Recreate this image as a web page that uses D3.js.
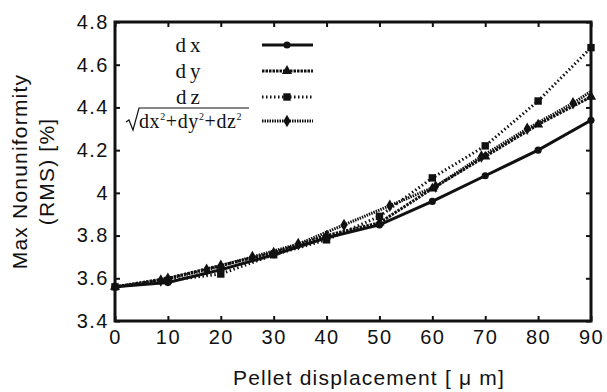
<!DOCTYPE html>
<html>
<head>
<meta charset="utf-8">
<script src="https://cdn.jsdelivr.net/npm/d3@7"></script>
<style>
  body { margin: 0; background: #fff; }
  .tick text { font-family: "Liberation Sans", Arial, sans-serif; font-size: 20px; fill: #111; letter-spacing: 1.5px; }
  .axis-label { font-family: "Liberation Sans", Arial, sans-serif; font-size: 21px; fill: #111; letter-spacing: 1.2px; }
  .legend-text { font-family: "Liberation Serif", "DejaVu Serif", serif; font-size: 21px; fill: #111; letter-spacing: 4px; }
</style>
</head>
<body>
<svg id="chart" width="607" height="392"></svg>
<script>
// x values (displacement, um)
const xs = [0, 10, 20, 30, 40, 50, 60, 70, 80, 90];
const dxVals = [3.56, 3.58, 3.64, 3.71, 3.79, 3.85, 3.96, 4.08, 4.20, 4.34];
const dyVals = [3.56, 3.60, 3.66, 3.72, 3.80, 3.86, 4.02, 4.17, 4.32, 4.45];
const dzVals = [3.56, 3.59, 3.62, 3.71, 3.78, 3.89, 4.07, 4.22, 4.43, 4.68];
// combined displacement sampled at d/sqrt(3)
const xsR = [0, 8.66, 17.32, 25.98, 34.64, 43.30, 51.96, 60.62, 69.28, 77.94, 86.60, 95.26];
const drVals = [3.56, 3.59, 3.64, 3.70, 3.76, 3.85, 3.94, 4.03, 4.17, 4.30, 4.42, 4.56];

const xTicks = [0, 10, 20, 30, 40, 50, 60, 70, 80, 90];
const yTicks = [3.4, 3.6, 3.8, 4.0, 4.2, 4.4, 4.6, 4.8];

const margin = {top: 22, right: 16, bottom: 71, left: 115},
    width = 607 - margin.left - margin.right,
    height = 392 - margin.top - margin.bottom;

const svg = d3.select("#chart")
  .append("g")
  .attr("transform", `translate(${margin.left},${margin.top})`);

const x = d3.scaleLinear().domain([0, 90]).range([0, width]);
const y = d3.scaleLinear().domain([3.4, 4.8]).range([height, 0]);

svg.append("clipPath").attr("id", "clip")
  .append("rect").attr("width", width).attr("height", height);

// axes, ticks pointing inward
const fmt = d => d3.format("")(+d.toFixed(1));
svg.append("g")
  .attr("transform", `translate(0,${height})`)
  .call(d3.axisBottom(x).tickValues(xTicks).tickSizeInner(-5).tickSizeOuter(0).tickPadding(9))
  .call(g => g.select(".domain").remove());
svg.append("g")
  .call(d3.axisLeft(y).tickValues(yTicks).tickFormat(fmt).tickSizeInner(-5).tickSizeOuter(0).tickPadding(6))
  .call(g => g.select(".domain").remove());
svg.append("g")
  .call(d3.axisTop(x).tickValues(xTicks).tickSizeInner(-5).tickSizeOuter(0).tickFormat(""))
  .call(g => g.select(".domain").remove());
svg.append("g")
  .attr("transform", `translate(${width},0)`)
  .call(d3.axisRight(y).tickValues(yTicks).tickSizeInner(-5).tickSizeOuter(0).tickFormat(""))
  .call(g => g.select(".domain").remove());
svg.selectAll(".tick line").attr("stroke", "#111").attr("stroke-width", 2);

const series = [
  {name: "dx", xv: xs, yv: dxVals, dash: null, marker: "circle"},
  {name: "dy", xv: xs, yv: dyVals, dash: "2.5,1", marker: "triangle"},
  {name: "dz", xv: xs, yv: dzVals, dash: "1.5,2.5", marker: "square"},
  {name: "dr", xv: xsR, yv: drVals, dash: "1.5,1", marker: "diamond"}
];

const line = d3.line().x(d => x(d[0])).y(d => y(d[1]));
const symbolFor = {
  circle: d3.symbol().type(d3.symbolCircle).size(40),
  triangle: d3.symbol().type(d3.symbolTriangle).size(45),
  square: d3.symbol().type(d3.symbolSquare).size(55),
  diamond: d3.symbol().type(d3.symbolDiamond).size(45)
};

const plot = svg.append("g").attr("clip-path", "url(#clip)");
series.forEach(s => {
  const pts = s.xv.map((v, i) => [v, s.yv[i]]);
  plot.append("path")
    .datum(pts)
    .attr("fill", "none")
    .attr("stroke", "#111")
    .attr("stroke-width", 3)
    .attr("stroke-dasharray", s.dash)
    .attr("d", line);
  svg.append("g").selectAll("path")
    .data(pts.filter(p => p[0] <= 90))
    .enter().append("path")
    .attr("transform", d => `translate(${x(d[0])},${y(d[1])})`)
    .attr("d", symbolFor[s.marker])
    .attr("fill", "#111");
});

// frame
svg.append("rect")
  .attr("width", width).attr("height", height)
  .attr("fill", "none").attr("stroke", "#111").attr("stroke-width", 3);

// legend
const leg = svg.append("g");
const rowsY = [23, 49, 75, 99];
const labelX = 75;
series.forEach((s, i) => {
  const ly = rowsY[i];
  if (s.name !== "dr") {
    leg.append("text").attr("class", "legend-text")
      .attr("x", labelX).attr("y", ly + 7).attr("text-anchor", "middle").text(s.name);
  }
  leg.append("line")
    .attr("x1", 147).attr("x2", 198).attr("y1", ly).attr("y2", ly)
    .attr("stroke", "#111").attr("stroke-width", 3).attr("stroke-dasharray", s.dash);
  leg.append("path")
    .attr("transform", `translate(172,${ly})`)
    .attr("d", symbolFor[s.marker]).attr("fill", "#111");
});
// sqrt label
const sq = leg.append("g").attr("transform", `translate(0,${rowsY[3]})`);
sq.append("path")
  .attr("d", "M11,1 L14,-1 L18,9 L24,-13 L134,-13")
  .attr("fill", "none").attr("stroke", "#111").attr("stroke-width", 1.2);
const t = sq.append("text").attr("class", "legend-text").attr("x", 24).attr("y", 7)
  .style("letter-spacing", "0.6px").style("font-size", "20px");
const parts = [["dx", false], ["2", true], ["+dy", false], ["2", true], ["+dz", false], ["2", true]];
parts.forEach((p, i) => {
  t.append("tspan")
    .attr("font-size", p[1] ? "10px" : null)
    .attr("dy", p[1] ? -8 : (i === 0 ? 0 : 8))
    .text(p[0]);
});

// axis labels
svg.append("text").attr("class", "axis-label")
  .attr("x", width / 2 + 16).attr("y", height + 64)
  .attr("text-anchor", "middle").text("Pellet displacement [ \u03bc m]");
svg.append("text").attr("class", "axis-label")
  .attr("transform", `translate(-88,${height / 2}) rotate(-90)`)
  .attr("text-anchor", "middle").text("Max Nonuniformity");
svg.append("text").attr("class", "axis-label")
  .attr("transform", `translate(-61,${height / 2}) rotate(-90)`)
  .attr("text-anchor", "middle").text("(RMS) [%]");
</script>
</body>
</html>
